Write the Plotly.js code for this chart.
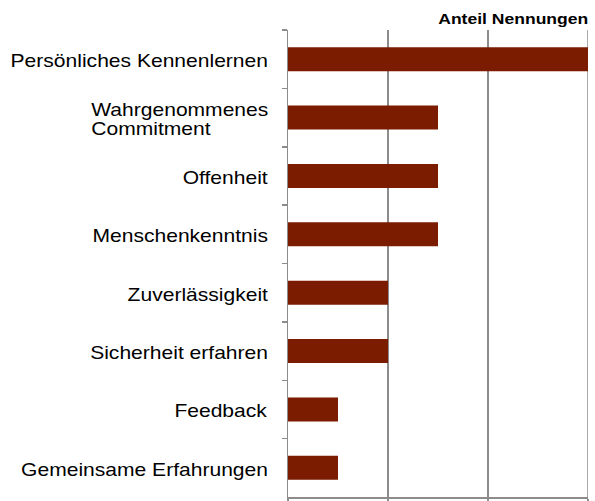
<!DOCTYPE html>
<html>
<head>
<meta charset="utf-8">
<script src="https://cdn.plot.ly/plotly-3.0.1.min.js"></script>
<style>html,body{margin:0;padding:0;background:#fff;}#chart{width:595px;height:501px;}</style>
</head>
<body>
<div id="chart"></div>
<script>
var categories = ["Persönliches Kennenlernen", "Wahrgenommenes<br>Commitment", "Offenheit", "Menschenkenntnis", "Zuverlässigkeit", "Sicherheit erfahren", "Feedback", "Gemeinsame Erfahrungen"];
var values = [6, 3, 3, 3, 2, 2, 1, 1];
var axisTitle = "Anteil Nennungen";
var xMax = 6;

var STRETCH = 1.17;   // the reference text is horizontally widened
var LINE_EM = 1.07;   // tighter line spacing of the two-line label

var labelAnnotations = categories.map(function (c) {
  return {
    text: c, xref: "paper", yref: "y", x: -0.06, y: c, yshift: -2,
    xanchor: "right", yanchor: "middle", align: "left", showarrow: false,
    font: {family: "Liberation Sans, Arial, sans-serif", size: 18, color: "#000"}
  };
});
labelAnnotations.push({
  text: "<b>" + axisTitle + "</b>", xref: "paper", yref: "paper", x: 1.0, y: 1.0,
  xanchor: "right", yanchor: "bottom", yshift: 1, xshift: 2, showarrow: false,
  font: {family: "Liberation Sans, Arial, sans-serif", size: 15, color: "#000"}
});

Plotly.newPlot("chart", [{
  type: "bar", orientation: "h", x: values, y: categories,
  marker: {color: "#7B1C00", line: {width: 0}},
  hoverinfo: "none"
}], {
  width: 595, height: 501,
  margin: {l: 288, r: 7, t: 30, b: 4, pad: 0},
  paper_bgcolor: "#fff", plot_bgcolor: "#fff",
  bargap: 0.59,
  showlegend: false,
  xaxis: {
    range: [0, xMax], dtick: 2, tick0: 0, showticklabels: false,
    showgrid: true, gridcolor: "#8c8c8c", gridwidth: 1.5,
    showline: true, linecolor: "#8c8c8c", linewidth: 1.5,
    ticks: "outside", ticklen: 4, tickcolor: "#8c8c8c", tickwidth: 1.5,
    zeroline: false, fixedrange: true
  },
  yaxis: {
    type: "category", autorange: "reversed", showticklabels: false,
    showgrid: false, showline: true, linecolor: "#8c8c8c", linewidth: 1.5,
    ticks: "outside", tickson: "boundaries", ticklen: 5, tickcolor: "#8c8c8c", tickwidth: 1.5,
    zeroline: false, fixedrange: true
  },
  shapes: [{
    type: "line", xref: "x", yref: "paper", x0: xMax, x1: xMax, y0: 0, y1: 1,
    line: {color: "#8c8c8c", width: 1.5}, layer: "below"
  }],
  annotations: labelAnnotations
}, {displayModeBar: false, staticPlot: true}).then(function (gd) {
  var texts = gd.querySelectorAll(".annotation-text");
  texts.forEach(function (t) {
    var fs = parseFloat(t.style.fontSize) || 18;
    var lines = t.querySelectorAll("tspan.line");
    var shiftY = 0;
    if (lines.length > 1) {
      lines.forEach(function (ln, i) { ln.setAttribute("dy", (i * LINE_EM) + "em"); });
      shiftY = (1.3 - LINE_EM) * fs * (lines.length - 1) / 2;
    }
    var bb = t.getBBox();
    var R = bb.x + bb.width;
    var prev = t.getAttribute("transform") || "";
    t.setAttribute("transform", prev + " translate(" + R + "," + shiftY + ") scale(" + STRETCH + ",1) translate(" + (-R) + ",0)");
  });
});
</script>
</body>
</html>
